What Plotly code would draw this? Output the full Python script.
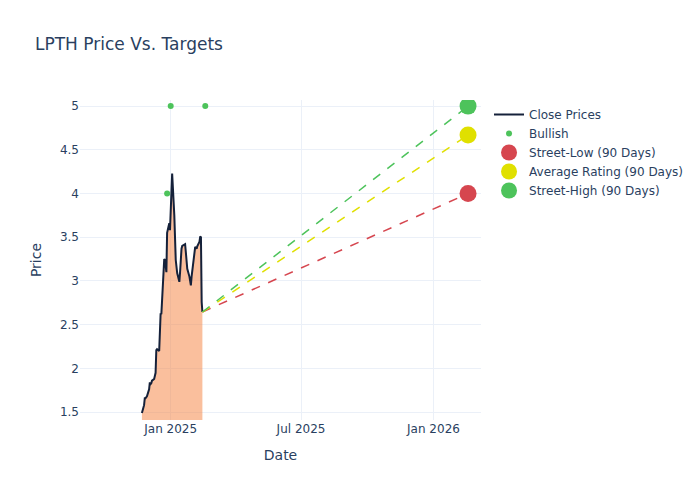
import plotly.graph_objs as go

# closing prices
price_dates = [
    "2024-11-22", "2024-11-25", "2024-11-26", "2024-11-27", "2024-11-29",
    "2024-12-02", "2024-12-03", "2024-12-04", "2024-12-05", "2024-12-06",
    "2024-12-09", "2024-12-10", "2024-12-11", "2024-12-12", "2024-12-13",
    "2024-12-16", "2024-12-17", "2024-12-18", "2024-12-19", "2024-12-20",
    "2024-12-23", "2024-12-24", "2024-12-26", "2024-12-27", "2024-12-30",
    "2024-12-31", "2025-01-02", "2025-01-03", "2025-01-06", "2025-01-07",
    "2025-01-08", "2025-01-10", "2025-01-13", "2025-01-14", "2025-01-15",
    "2025-01-16", "2025-01-17", "2025-01-21", "2025-01-22", "2025-01-23",
    "2025-01-24", "2025-01-27", "2025-01-28", "2025-01-29", "2025-01-30",
    "2025-01-31", "2025-02-03", "2025-02-04", "2025-02-05", "2025-02-06",
    "2025-02-07", "2025-02-10", "2025-02-11", "2025-02-12", "2025-02-13",
    "2025-02-14",
]
close_prices = [
    1.49, 1.58, 1.66, 1.66, 1.68,
    1.76, 1.84, 1.82, 1.83, 1.86,
    1.88, 1.92, 1.95, 2.21, 2.22,
    2.20, 2.45, 2.63, 2.62, 2.75,
    3.25, 3.24, 3.10, 3.55, 3.66,
    3.58, 4.12, 4.23, 3.75, 3.40,
    3.24, 3.09, 2.99, 3.10, 3.30,
    3.37, 3.40, 3.42, 3.33, 3.24,
    3.14, 3.05, 3.00, 2.95, 3.05,
    3.13, 3.30, 3.39, 3.38, 3.37,
    3.40, 3.45, 3.51, 3.50, 2.76,
    2.645,
]

# analyst ratings
bullish_dates = ["2024-12-27", "2025-01-01", "2025-02-18"]
bullish_targets = [4.0, 5.0, 5.0]

# 90-day targets
target_date = "2026-02-18"
target_names = ["Street-Low (90 Days)", "Average Rating (90 Days)", "Street-High (90 Days)"]
target_values = [4.0, 4.67, 5.0]
target_colors = ["#D6464F", "#E0E000", "#4DC35B"]

fig = go.Figure()
# shaded area under the price line
fig.add_trace(
    go.Scatter(
        x=price_dates,
        y=close_prices,
        mode="lines",
        line={"width": 0},
        fill="tozeroy",
        fillcolor="rgba(246,128,60,0.5)",
        showlegend=False,
        hoverinfo="skip",
    )
)
fig.add_trace(
    go.Scatter(
        x=price_dates,
        y=close_prices,
        mode="lines",
        name="Close Prices",
        line={"color": "#15213A", "width": 2},
    )
)
fig.add_trace(
    go.Scatter(
        x=bullish_dates,
        y=bullish_targets,
        mode="markers",
        name="Bullish",
        marker={"color": "#4DC35B", "size": 6},
    )
)
for name, value, color in zip(target_names, target_values, target_colors):
    fig.add_trace(
        go.Scatter(
            x=[price_dates[-1], target_date],
            y=[close_prices[-1], value],
            mode="lines",
            line={"color": color, "dash": "dash", "width": 1.5},
            showlegend=False,
            hoverinfo="skip",
        )
    )
for name, value, color in zip(target_names, target_values, target_colors):
    fig.add_trace(
        go.Scatter(
            x=[target_date],
            y=[value],
            mode="markers",
            name=name,
            marker={"color": color, "size": 17},
        )
    )

fig.update_layout(
    template="plotly_white",
    title="LPTH Price Vs. Targets",
    font={"family": "DejaVu Sans"},
    xaxis_title="Date",
    yaxis_title="Price",
    width=700,
    height=500,
    xaxis={"range": ["2024-08-28", "2026-03-08"], "dtick": "M6", "tick0": "2025-01-01"},
    yaxis={"range": [1.41, 5.07]},
)
fig.write_html(
    "out.html",
    config={"displayModeBar": False},
    post_script="document.body.style.margin='0';",
)
